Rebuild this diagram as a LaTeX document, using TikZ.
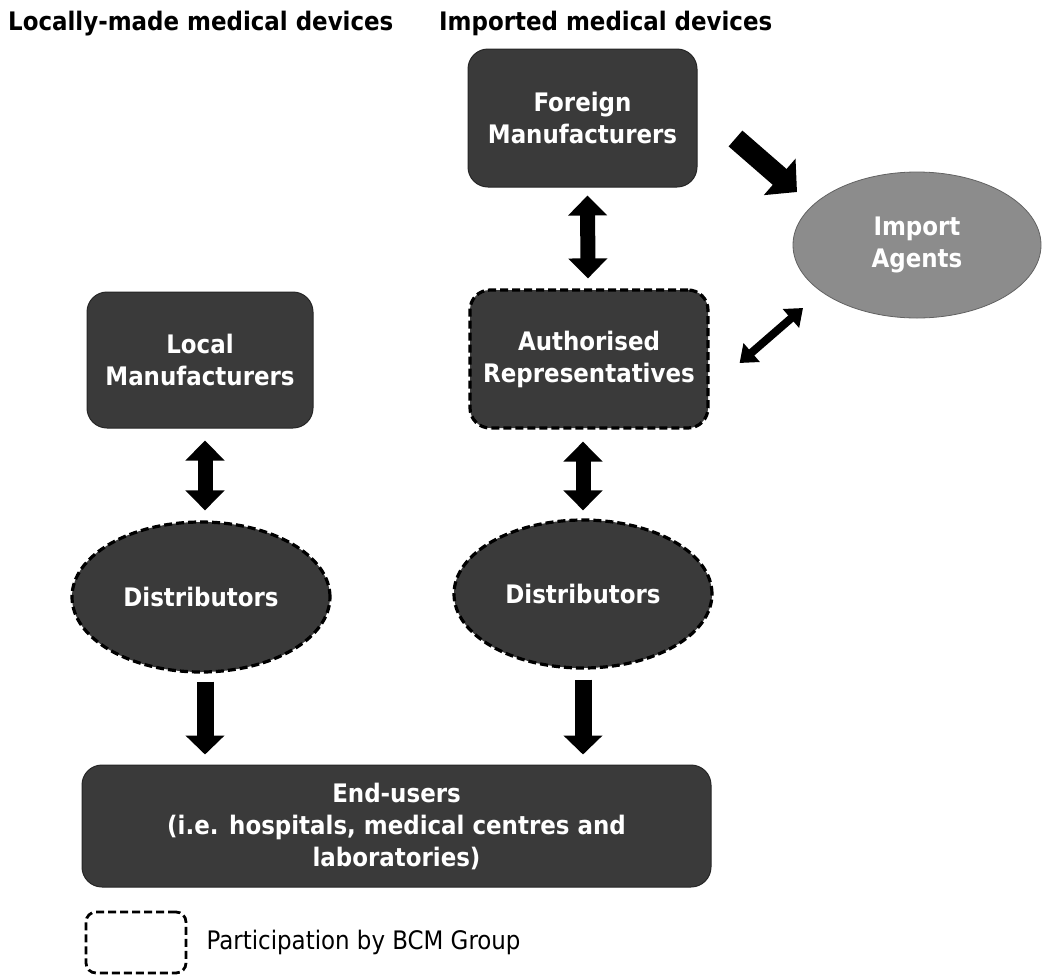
\documentclass[tikz,border=0pt]{standalone}
\usepackage{fontspec}
\setmainfont{DejaVu Sans Condensed}
\usetikzlibrary{arrows.meta,calc,shapes.geometric}
\definecolor{boxgray}{HTML}{3A3A3A}
\definecolor{agentgray}{HTML}{8C8C8C}
\begin{document}
\begin{tikzpicture}[x=1pt,y=-1pt,
  label text/.style={text=white,font=\bfseries\fontsize{25.5}{32}\selectfont,align=center,inner sep=0pt},
  box/.style={label text,draw=black!85,line width=1pt,fill=boxgray,rounded corners=20pt},
  bcm/.style={draw=black,line width=3.2pt,dash pattern=on 8pt off 4pt},
  oval/.style={label text,ellipse,fill=boxgray,minimum width=258pt,minimum height=150pt},
  heading/.style={font=\bfseries\fontsize{25.5}{30}\selectfont,anchor=base west,inner sep=0pt},
  flow/.style={line width=17pt,-{Triangle[length=19pt,width=38pt]}},
  link/.style={line width=15pt,{Triangle[length=20pt,width=38pt]}-{Triangle[length=20pt,width=38pt]}},
]
\useasboundingbox (0,0) rectangle (1042,975);

% column headings
\node[heading] (hlocal) at (8,30) {Locally-made medical devices};
\node[heading] (himport) at (439,30) {Imported medical devices};

% imported chain
\node[box,minimum width=229pt,minimum height=138pt] (foreign) at (582.5,118) {Foreign\\Manufacturers};
\node[label text,ellipse,draw=agentgray!70!black,line width=0.8pt,fill=agentgray,minimum width=248pt,minimum height=146pt] (import) at (917,245) {Import\\Agents};
\node[box,bcm,minimum width=238pt,minimum height=138pt] (auth) at (589,359) {Authorised\\Representatives};
\node[oval,bcm,minimum width=258pt,minimum height=148pt] (distR) at (583,594) {Distributors};

% local chain
\node[box,minimum width=226pt,minimum height=136pt] (local) at (200,360) {Local\\Manufacturers};
\node[oval,bcm] (distL) at (201,597) {Distributors};

% common end point
\node[box,minimum width=629pt,minimum height=122pt] (users) at (396.5,826) {End-users\\(i.e. hospitals, medical centres and\\laboratories)};

% connectors
\draw[line width=21pt,-{Triangle[length=23pt,width=47pt]}]
  ([shift={(38,-49)}]foreign.south east) -- ([shift={(-120,-53)}]import.center);
\draw[link] ([shift={(5,8)}]foreign.south) -- ([shift={(-1,-10)}]auth.north);
\draw[line width=8pt,{Triangle[length=16pt,width=24pt]}-{Triangle[length=16pt,width=24pt]}]
  ([shift={(30,4)}]auth.east) -- ([shift={(-114,63)}]import.center);
\draw[link] ([shift={(5,12)}]local.south) -- ([shift={(4,-10)}]distL.north);
\draw[link] ([shift={(-6,12)}]auth.south) -- ([shift={(0,-8)}]distR.north);
\draw[flow] ([shift={(4,8)}]distL.south) -- ($(users.north -| distL.south)+(4,-10)$);
\draw[flow] ([shift={(0,10)}]distR.south) -- ($(users.north -| distR.south)+(0,-10)$);

% legend
\node[bcm,line width=2.8pt,rounded corners=10pt,minimum width=100pt,minimum height=61pt,inner sep=0pt] (key) at (136,942.5) {};
\node[font=\fontsize{25.5}{30}\selectfont,anchor=west,inner sep=0pt] (keytext) at ([xshift=19pt]key.east) {Participation by BCM Group};
\end{tikzpicture}
\end{document}
